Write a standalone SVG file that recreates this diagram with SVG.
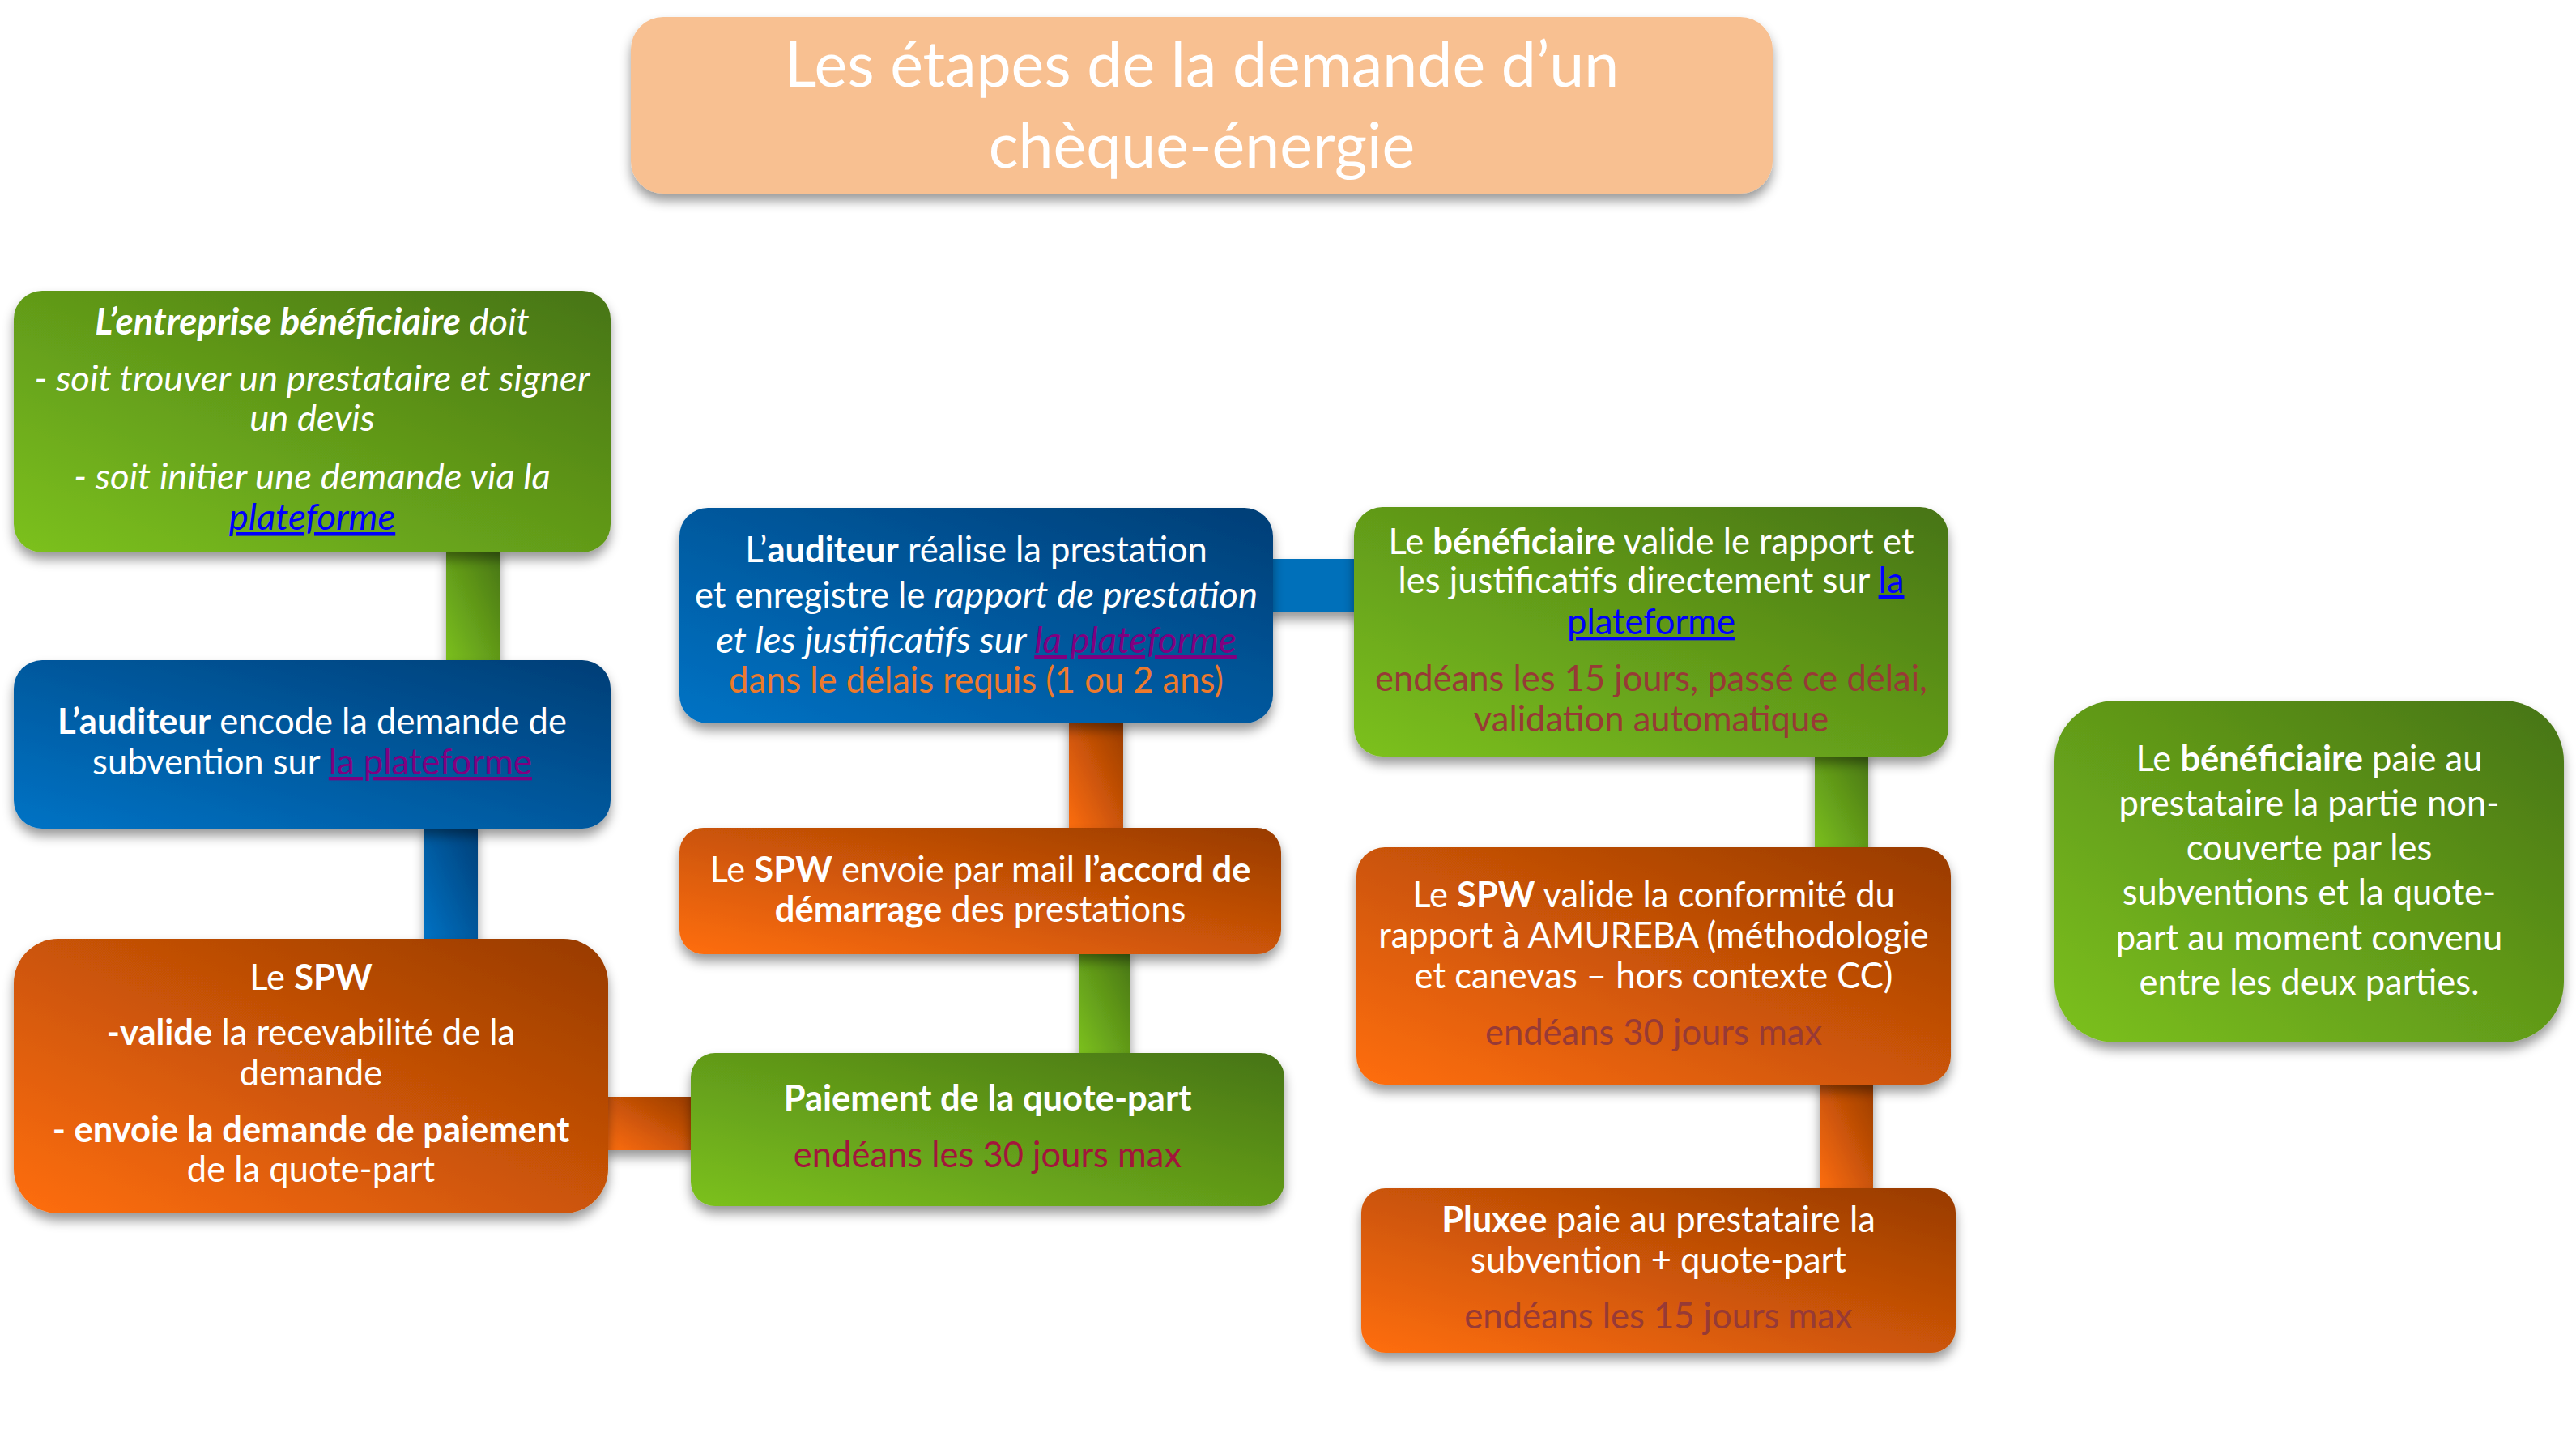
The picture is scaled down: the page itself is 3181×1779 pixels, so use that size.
<svg xmlns="http://www.w3.org/2000/svg" width="3181" height="1779" viewBox="0 0 3181 1779">
<defs>
<linearGradient id="gGreen" x1="0" y1="1" x2="1" y2="0"><stop offset="0" stop-color="#7CC11F"/><stop offset="1" stop-color="#477413"/></linearGradient>
<linearGradient id="gBlue" x1="0" y1="1" x2="1" y2="0"><stop offset="0" stop-color="#0073C5"/><stop offset="1" stop-color="#023E76"/></linearGradient>
<linearGradient id="gOrange" x1="0" y1="1" x2="1" y2="0"><stop offset="0" stop-color="#FF6E0C"/><stop offset="1" stop-color="#983B02"/></linearGradient>
<filter id="sh" x="-10%" y="-10%" width="120%" height="130%"><feDropShadow dx="0" dy="9" stdDeviation="7" flood-color="#000" flood-opacity="0.4"/></filter>
<style>
text{font-family:Lato,"Open Sans",sans-serif;font-size:43.5px;fill:#fff;text-anchor:middle}
.b{font-weight:bold}
.i{font-style:italic;font-size:45.5px}
.lb{fill:#0000FF;text-decoration:underline}
.lp{fill:#800080;text-decoration:underline}
.or{fill:#EE7A2C}
.dr{fill:#973A36}
.cr{fill:#A3153C}
.title{font-size:77px}
</style>
</defs>
<rect width="3181" height="1779" fill="#fff"/>
<g id="connectors" filter="url(#sh)">
<rect x="551" y="675" width="66" height="147" fill="url(#gGreen)"/>
<rect x="524" y="1015" width="66" height="150" fill="url(#gBlue)"/>
<rect x="745" y="1354" width="113" height="66" fill="url(#gOrange)"/>
<rect x="1320" y="885" width="67" height="145" fill="url(#gOrange)"/>
<rect x="1333" y="1170" width="63" height="135" fill="url(#gGreen)"/>
<rect x="1565" y="690" width="115" height="66" fill="#0070BA"/>
<rect x="2241" y="925" width="66" height="127" fill="url(#gGreen)"/>
<rect x="2247" y="1330" width="66" height="142" fill="url(#gOrange)"/>
</g>
<g id="title" filter="url(#sh)">
<rect x="779" y="21" width="1410" height="218" rx="40" fill="#F8C091"/>
<text class="title" x="1484" y="107">Les étapes de la demande d’un</text>
<text class="title" x="1484" y="207">chèque-énergie</text>
</g>
<g id="n1">
<rect x="17" y="359" width="737" height="323" rx="35" fill="url(#gGreen)" filter="url(#sh)"/>
<text class="i" x="385.5" y="413"><tspan class="b">L’entreprise bénéficiaire</tspan> doit</text>
<text class="i" x="385.5" y="483">- soit trouver un prestataire et signer</text>
<text class="i" x="385.5" y="532">un devis</text>
<text class="i" x="385.5" y="604">- soit initier une demande via la</text>
<text class="i" x="385.5" y="654"><tspan class="lb">plateforme</tspan></text>
</g>
<g id="n2">
<rect x="17" y="815" width="737" height="208" rx="35" fill="url(#gBlue)" filter="url(#sh)"/>
<text x="385.5" y="906"><tspan class="b">L’auditeur</tspan> encode la demande de</text>
<text x="385.5" y="956">subvention sur <tspan class="lp">la plateforme</tspan></text>
</g>
<g id="n3">
<rect x="17" y="1159" width="734" height="339" rx="55" fill="url(#gOrange)" filter="url(#sh)"/>
<text x="384" y="1222">Le <tspan class="b">SPW</tspan></text>
<text x="384" y="1290"><tspan class="b">-valide</tspan> la recevabilité de la</text>
<text x="384" y="1340">demande</text>
<text x="384" y="1410" class="b">- envoie la demande de paiement</text>
<text x="384" y="1459">de la quote-part</text>
</g>
<g id="n4">
<rect x="839" y="627" width="733" height="266" rx="35" fill="url(#gBlue)" filter="url(#sh)"/>
<text x="1205.5" y="694">L’<tspan class="b">auditeur</tspan> réalise la prestation</text>
<text x="1205.5" y="750">et enregistre le <tspan class="i">rapport de prestation</tspan></text>
<text x="1205.5" y="806" class="i">et les justificatifs sur <tspan class="lp">la plateforme</tspan></text>
<text x="1205.5" y="855" class="or">dans le délais requis (1 ou 2 ans)</text>
</g>
<g id="n5">
<rect x="839" y="1022" width="743" height="156" rx="30" fill="url(#gOrange)" filter="url(#sh)"/>
<text x="1210.5" y="1089">Le <tspan class="b">SPW</tspan> envoie par mail <tspan class="b">l’accord de</tspan></text>
<text x="1210.5" y="1138"><tspan class="b">démarrage</tspan> des prestations</text>
</g>
<g id="n6">
<rect x="853" y="1300" width="733" height="189" rx="30" fill="url(#gGreen)" filter="url(#sh)"/>
<text x="1219.5" y="1371" class="b">Paiement de la quote-part</text>
<text x="1219.5" y="1441" class="cr">endéans les 30 jours max</text>
</g>
<g id="n7">
<rect x="1672" y="626" width="734" height="308" rx="35" fill="url(#gGreen)" filter="url(#sh)"/>
<text x="2039" y="684">Le <tspan class="b">bénéficiaire</tspan> valide le rapport et</text>
<text x="2039" y="732">les justificatifs directement sur <tspan class="lb">la</tspan></text>
<text x="2039" y="783"><tspan class="lb">plateforme</tspan></text>
<text x="2039" y="853" class="dr">endéans les 15 jours, passé ce délai,</text>
<text x="2039" y="903" class="dr">validation automatique</text>
</g>
<g id="n8">
<rect x="1675" y="1046" width="734" height="293" rx="35" fill="url(#gOrange)" filter="url(#sh)"/>
<text x="2042" y="1120">Le <tspan class="b">SPW</tspan> valide la conformité du</text>
<text x="2042" y="1170">rapport à AMUREBA (méthodologie</text>
<text x="2042" y="1220">et canevas – hors contexte CC)</text>
<text x="2042" y="1290" class="dr">endéans 30 jours max</text>
</g>
<g id="n9">
<rect x="1681" y="1467" width="734" height="203" rx="30" fill="url(#gOrange)" filter="url(#sh)"/>
<text x="2048" y="1521"><tspan class="b">Pluxee</tspan> paie au prestataire la</text>
<text x="2048" y="1571">subvention + quote-part</text>
<text x="2048" y="1640" class="dr">endéans les 15 jours max</text>
</g>
<g id="n10">
<rect x="2537" y="865" width="629" height="422" rx="75" fill="url(#gGreen)" filter="url(#sh)"/>
<text x="2851.5" y="952">Le <tspan class="b">bénéficiaire</tspan> paie au</text>
<text x="2851.5" y="1007">prestataire la partie non-</text>
<text x="2851.5" y="1062">couverte par les</text>
<text x="2851.5" y="1117">subventions et la quote-</text>
<text x="2851.5" y="1173">part au moment convenu</text>
<text x="2851.5" y="1228">entre les deux parties.</text>
</g>
</svg>
